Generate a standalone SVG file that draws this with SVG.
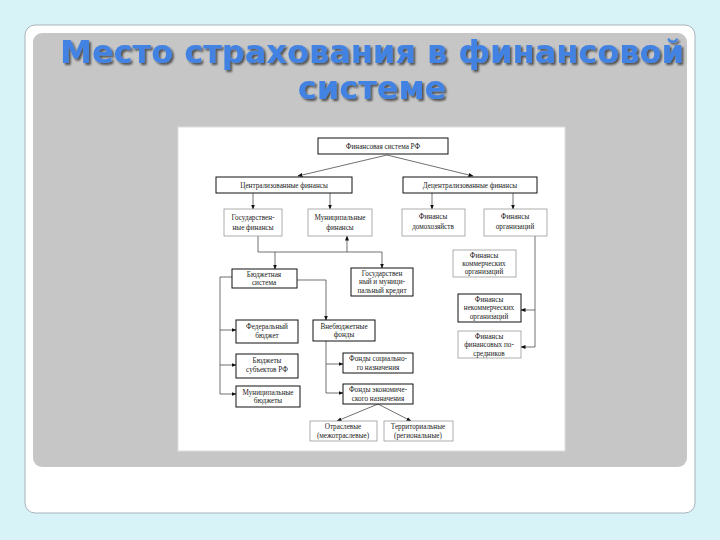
<svg xmlns="http://www.w3.org/2000/svg" width="720" height="540" viewBox="0 0 720 540">
<defs>
<marker id="ah" viewBox="0 0 10 10" refX="9" refY="5" markerWidth="5" markerHeight="5" orient="auto" markerUnits="userSpaceOnUse"><path d="M0,1 L10,5 L0,9 z" fill="#111"/></marker>
<filter id="sh" x="-5%" y="-5%" width="110%" height="130%"><feGaussianBlur in="SourceAlpha" stdDeviation="0.8"/><feOffset dx="2" dy="2"/><feComponentTransfer><feFuncA type="linear" slope="0.6"/></feComponentTransfer><feMerge><feMergeNode/><feMergeNode in="SourceGraphic"/></feMerge></filter>
</defs>
<style>
.title{font-family:"DejaVu Sans",Verdana,sans-serif;font-weight:bold;font-size:32px;fill:#4282e2;text-anchor:middle}
.b{fill:#fff;stroke:#111;stroke-width:1}
.g{fill:#fff;stroke:#999;stroke-width:0.8}
.t{font-family:"Liberation Serif","Times New Roman",serif;font-size:7.2px;fill:#222;text-anchor:middle}
.c{fill:none;stroke:#333;stroke-width:0.7}
.ca{fill:none;stroke:#333;stroke-width:0.7;marker-end:url(#ah)}
</style>
<rect x="0" y="0" width="720" height="540" fill="#d8f3f8"/>
<rect x="25" y="25" width="670" height="488" rx="10" fill="#fff" stroke="#a9b4bb" stroke-width="1"/>
<rect x="33" y="33" width="654" height="434" rx="9" fill="#c6c6c6"/>
<g filter="url(#sh)">
<text class="title" x="372" y="63">Место страхования в финансовой</text>
<text class="title" x="372" y="99">системе</text>
</g>
<rect x="178" y="127" width="387" height="324" fill="#fff" stroke="#ddd" stroke-width="1"/>

<g id="connectors">
<path class="ca" d="M387,155 L298,176"/>
<path class="ca" d="M387,155 L473,176"/>
<path class="ca" d="M253,193 V209"/>
<path class="ca" d="M330,193 V209"/>
<path class="ca" d="M432,193 V209"/>
<path class="ca" d="M513,193 V209"/>
<path class="c" d="M258,236 V252 H382"/>
<path class="ca" d="M347,252 V236"/>
<path class="ca" d="M275,252 V269"/>
<path class="ca" d="M382,252 V268"/>
<path class="c" d="M535,236 V347"/>
<path class="ca" d="M535,310 H521"/>
<path class="ca" d="M535,347 H521"/>
<path class="c" d="M232,277 H220 V394"/>
<path class="ca" d="M220,330 H236"/>
<path class="ca" d="M220,365 H236"/>
<path class="ca" d="M220,394 H236"/>
<path class="c" d="M297,280 H326"/>
<path class="ca" d="M326,280 V320"/>
<path class="c" d="M326,341 V393"/>
<path class="ca" d="M326,364 H343"/>
<path class="ca" d="M326,393 H343"/>
<path class="ca" d="M378,404 L337,421"/>
<path class="ca" d="M378,404 L411,421"/>
</g>

<g id="n1"><rect class="b" x="318" y="138" width="130" height="16"/><text class="t" x="383" y="149">Финансовая система РФ</text></g>
<g id="n2"><rect class="b" x="216" y="177" width="136" height="16"/><text class="t" x="284" y="188">Централизованные финансы</text></g>
<g id="n3"><rect class="b" x="403" y="177" width="134" height="16"/><text class="t" x="470" y="188">Децентрализованные финансы</text></g>
<g id="n4"><rect class="g" x="224" y="209" width="58" height="27"/><text class="t" x="253" y="220">Государствен-</text><text class="t" x="253" y="230">ные финансы</text></g>
<g id="n5"><rect class="g" x="308" y="209" width="64" height="27"/><text class="t" x="340" y="220">Муниципальные</text><text class="t" x="340" y="230">финансы</text></g>
<g id="n6"><rect class="g" x="402" y="209" width="63" height="27"/><text class="t" x="433" y="219">Финансы</text><text class="t" x="433" y="229">домохозяйств</text></g>
<g id="n7"><rect class="g" x="484" y="209" width="63" height="27"/><text class="t" x="515" y="219">Финансы</text><text class="t" x="515" y="229">организаций</text></g>
<g id="n8"><rect class="b" x="232" y="269" width="65" height="19"/><text class="t" x="264" y="277">Бюджетная</text><text class="t" x="264" y="285">система</text></g>
<g id="n9"><rect class="b" x="351" y="268" width="62" height="28"/><text class="t" x="382" y="276">Государствен</text><text class="t" x="382" y="284">ный и муници-</text><text class="t" x="382" y="293">пальный кредит</text></g>
<g id="n10"><rect class="g" x="453" y="250" width="63" height="27"/><text class="t" x="484" y="258">Финансы</text><text class="t" x="484" y="266">коммерческих</text><text class="t" x="484" y="274">организаций</text></g>
<g id="n11"><rect class="b" x="458" y="294" width="63" height="28"/><text class="t" x="489" y="302">Финансы</text><text class="t" x="489" y="310">некоммерческих</text><text class="t" x="489" y="319">организаций</text></g>
<g id="n12"><rect class="g" x="458" y="331" width="63" height="27"/><text class="t" x="489" y="339">Финансы</text><text class="t" x="489" y="347">финансовых по-</text><text class="t" x="489" y="356">средников</text></g>
<g id="n13"><rect class="b" x="236" y="320" width="62" height="23"/><text class="t" x="267" y="329">Федеральный</text><text class="t" x="267" y="338">бюджет</text></g>
<g id="n14"><rect class="b" x="313" y="320" width="62" height="21"/><text class="t" x="344" y="329">Внебюджетные</text><text class="t" x="344" y="337">фонды</text></g>
<g id="n15"><rect class="b" x="236" y="354" width="62" height="24"/><text class="t" x="267" y="363">Бюджеты</text><text class="t" x="267" y="372">субъектов РФ</text></g>
<g id="n16"><rect class="b" x="343" y="353" width="70" height="20"/><text class="t" x="378" y="361">Фонды социально-</text><text class="t" x="378" y="370">го назначения</text></g>
<g id="n17"><rect class="b" x="236" y="386" width="64" height="21"/><text class="t" x="268" y="395">Муниципальные</text><text class="t" x="268" y="403">бюджеты</text></g>
<g id="n18"><rect class="b" x="343" y="384" width="70" height="20"/><text class="t" x="378" y="392">Фонды экономиче-</text><text class="t" x="378" y="401">ского назначения</text></g>
<g id="n19"><rect class="g" x="310" y="421" width="67" height="20"/><text class="t" x="343" y="429">Отраслевые</text><text class="t" x="343" y="438">(межотраслевые)</text></g>
<g id="n20"><rect class="g" x="384" y="421" width="69" height="20"/><text class="t" x="418" y="429">Территориальные</text><text class="t" x="418" y="438">(региональные)</text></g>
</svg>
